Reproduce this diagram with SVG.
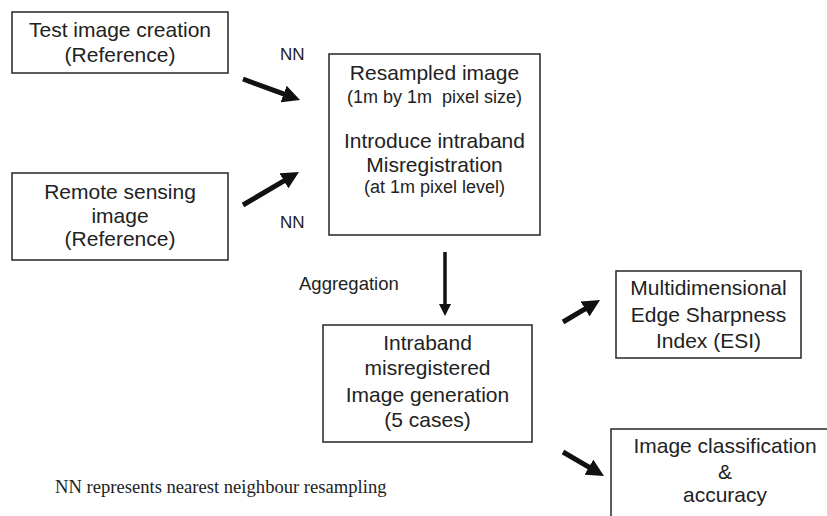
<svg xmlns="http://www.w3.org/2000/svg" width="827" height="516" viewBox="0 0 827 516">
<style>
.box{fill:#fff;stroke:#333;stroke-width:1.6}
.t{font-family:"Liberation Sans",Arial,sans-serif;font-size:21px;fill:#222;text-anchor:middle}
.s{font-family:"Liberation Sans",Arial,sans-serif;font-size:18px;fill:#222;text-anchor:middle;white-space:pre}
.l{font-family:"Liberation Sans",Arial,sans-serif;font-size:17px;fill:#222}
.n{font-family:"Liberation Serif","Times New Roman",serif;font-size:18.6px;fill:#222}
.a{stroke:#111;stroke-width:5;fill:none;marker-end:url(#ah)}
.ad{stroke:#111;stroke-width:3.5;fill:none;marker-end:url(#ah)}
</style>
<defs>
<marker id="ah" viewBox="0 0 3.5 3.5" refX="1" refY="1.75" markerWidth="3.5" markerHeight="3.5" markerUnits="strokeWidth" orient="auto">
<path d="M0,0 L3.5,1.75 L0,3.5 z" fill="#111"/>
</marker>
</defs>
<rect width="827" height="516" fill="#fff"/>
<g id="connectors">
<line class="a" x1="243" y1="79" x2="288.3" y2="95.7"/>
<line class="a" x1="243" y1="205" x2="288.2" y2="178.3"/>
<line class="ad" x1="445" y1="252" x2="445" y2="307.3"/>
<line class="a" x1="563" y1="322" x2="589.3" y2="306.4"/>
<line class="a" x1="563" y1="452" x2="593.2" y2="469.7"/>
<text class="l" x="280" y="60">NN</text>
<text class="l" x="280" y="228">NN</text>
<text class="l" x="299" y="290" style="font-size:18.5px">Aggregation</text>
</g>
<g id="test-image">
<rect class="box" x="12" y="12" width="216" height="61"/>
<text class="t" x="120" y="37">Test image creation</text>
<text class="t" x="120" y="62">(Reference)</text>
</g>
<g id="remote-sensing">
<rect class="box" x="12" y="173" width="216" height="87"/>
<text class="t" x="120" y="199">Remote sensing</text>
<text class="t" x="120" y="223">image</text>
<text class="t" x="120" y="246">(Reference)</text>
</g>
<g id="resampled">
<rect class="box" x="329" y="54" width="211" height="181"/>
<text class="t" x="434.5" y="80">Resampled image</text>
<text class="s" x="434.5" y="103">(1m by 1m  pixel size)</text>
<text class="t" x="434.5" y="148">Introduce intraband</text>
<text class="t" x="434.5" y="172">Misregistration</text>
<text class="s" x="434.5" y="193">(at 1m pixel level)</text>
</g>
<g id="intraband">
<rect class="box" x="323" y="325" width="209" height="117"/>
<text class="t" x="427.5" y="350">Intraband</text>
<text class="t" x="427.5" y="375">misregistered</text>
<text class="t" x="427.5" y="402">Image generation</text>
<text class="t" x="427.5" y="427">(5 cases)</text>
</g>
<g id="esi">
<rect class="box" x="616" y="271" width="185" height="87"/>
<text class="t" x="708.5" y="295">Multidimensional</text>
<text class="t" x="708.5" y="322">Edge Sharpness</text>
<text class="t" x="708.5" y="348">Index (ESI)</text>
</g>
<g id="classification">
<rect class="box" x="611" y="429" width="240" height="120"/>
<text class="t" x="725" y="453">Image classification</text>
<text class="t" x="725" y="479">&amp;</text>
<text class="t" x="725" y="502">accuracy</text>
</g>
<g id="note">
<text class="n" x="55" y="493">NN represents nearest neighbour resampling</text>
</g>
</svg>
